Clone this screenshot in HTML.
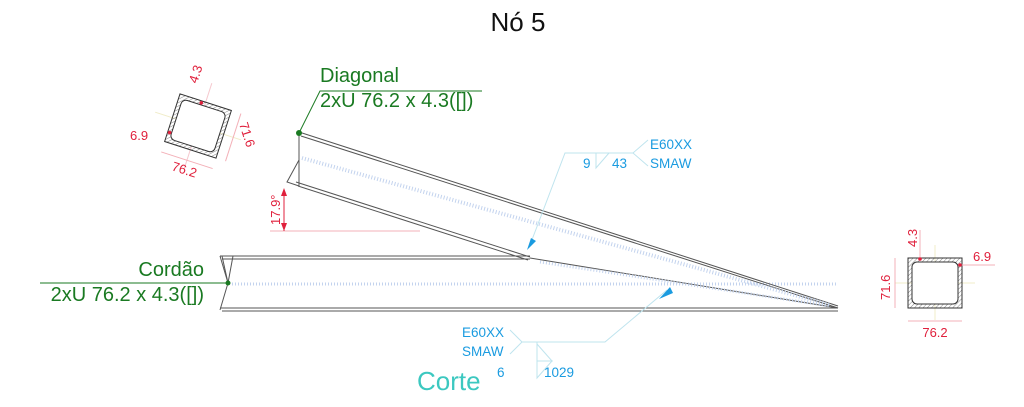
<!DOCTYPE html>
<html><head><meta charset="utf-8"><style>
html,body{margin:0;padding:0;background:#fff;}
svg{display:block;font-family:"Liberation Sans",sans-serif;}
</style></head><body>
<svg width="1024" height="407" viewBox="0 0 1024 407" xmlns="http://www.w3.org/2000/svg">
<defs>
<pattern id="hatch" width="3" height="3" patternUnits="userSpaceOnUse" patternTransform="rotate(45)"><line x1="0" y1="0" x2="0" y2="3" stroke="#888" stroke-width="1"/></pattern>
</defs>
<text x="518" y="31" font-size="26" text-anchor="middle" fill="#111">Nó 5</text>

<!-- chord -->
<g stroke="#555" fill="none" stroke-width="1">
<line x1="220" y1="256" x2="530" y2="256"/><line x1="222" y1="259" x2="530" y2="259"/>
<line x1="220" y1="308" x2="838" y2="308"/><line x1="222" y1="311" x2="838" y2="311"/>
<polyline points="220,256 228,283 220,310"/>
<polyline points="222,256 228,283 233,256"/>
</g>
<line x1="232" y1="284" x2="838" y2="284" stroke="#c3d3ee" stroke-width="3" stroke-dasharray="1 2"/>

<!-- diagonal -->
<g stroke="#555" fill="none" stroke-width="1">
<line x1="299" y1="132" x2="838" y2="306"/><line x1="301" y1="136" x2="838" y2="308"/>
<line x1="296" y1="182" x2="530" y2="257"/><line x1="298" y1="186" x2="528" y2="260"/>
<line x1="530" y1="258" x2="838" y2="308"/>
<line x1="299" y1="133" x2="299" y2="186"/>
<polyline points="299,160 287,182 299,186"/>
</g>
<line x1="302" y1="158" x2="830" y2="305" stroke="#c3d3ee" stroke-width="4" stroke-dasharray="1 2"/>
<line x1="540" y1="262" x2="830" y2="306" stroke="#c3d3ee" stroke-width="3" stroke-dasharray="1 2"/>

<!-- angle dim -->
<line x1="270" y1="231" x2="420" y2="231" stroke="#f3b0b8" stroke-width="1"/>
<line x1="284" y1="190" x2="284" y2="231" stroke="#e0203c" stroke-width="1"/>
<polygon points="284,188 281,196 287,196" fill="#e0203c"/>
<polygon points="284,231 281,223 287,223" fill="#e0203c"/>
<text x="0" y="0" font-size="13" fill="#e0203c" transform="translate(280,225) rotate(-90)">17.9°</text>

<!-- green labels -->
<text x="320" y="82" font-size="20" fill="#1a7a22">Diagonal</text>
<text x="320" y="107" font-size="20" fill="#1a7a22">2xU 76.2 x 4.3([])</text>
<polyline points="299,133 320,91 482,91" fill="none" stroke="#1a7a22" stroke-width="1"/>
<circle cx="299" cy="133" r="3" fill="#1a7a22"/>
<text x="204" y="276" font-size="20" fill="#1a7a22" text-anchor="end">Cordão</text>
<text x="204" y="301" font-size="20" fill="#1a7a22" text-anchor="end">2xU 76.2 x 4.3([])</text>
<line x1="40" y1="283" x2="228" y2="283" stroke="#1a7a22" stroke-width="1"/>
<circle cx="228" cy="283" r="2.5" fill="#1a7a22"/>

<!-- top weld symbol -->
<g stroke="#bfe4ee" fill="none" stroke-width="1">
<polyline points="530,245 565,153 633,153 648,140"/>
<line x1="633" y1="153" x2="648" y2="166"/>
<polyline points="596,153 596,168 609,153"/>
</g>
<polygon points="527,250 531,238 536,241" fill="#1a9be0"/>
<text x="650" y="149" font-size="13.5" fill="#1a9be0">E60XX</text>
<text x="650" y="168" font-size="13.5" fill="#1a9be0">SMAW</text>
<text x="583" y="168" font-size="13.5" fill="#1a9be0">9</text>
<text x="612" y="168" font-size="13.5" fill="#1a9be0">43</text>

<!-- bottom weld -->
<g stroke="#bfe4ee" fill="none" stroke-width="1">
<polyline points="667,290 605,342 522,342 510,330"/>
<line x1="522" y1="342" x2="510" y2="354"/>
<polyline points="537,342 537,378 552,361 537,361 552,361 537,344"/>
</g>
<polygon points="659,299 670,287 673,293" fill="#1a9be0"/>
<text x="462" y="337" font-size="13.5" fill="#1a9be0">E60XX</text>
<text x="462" y="356" font-size="13.5" fill="#1a9be0">SMAW</text>
<text x="497" y="377" font-size="13.5" fill="#1a9be0">6</text>
<text x="559" y="377" font-size="13.5" fill="#1a9be0" text-anchor="middle">1029</text>
<text x="417" y="390" font-size="26" fill="#3cc8c0">Corte</text>

<!-- left section -->
<g transform="translate(198,126) rotate(17.9)">
<line x1="0" y1="-45" x2="0" y2="45" stroke="#f6c9cf" stroke-width="1"/>
<line x1="-45" y1="0" x2="45" y2="0" stroke="#f0ecc8" stroke-width="1"/>
<rect x="-27" y="-25" width="54" height="50" fill="url(#hatch)" stroke="#333" stroke-width="1"/>
<rect x="-23" y="-21" width="46" height="42" rx="5" fill="#fff" stroke="#333" stroke-width="1"/>
<line x1="-27" y1="36" x2="27" y2="36" stroke="#f3b0b8"/>
<line x1="37" y1="-25" x2="37" y2="25" stroke="#f3b0b8"/>
<circle cx="-4" cy="-23" r="1.8" fill="#e0203c"/>
<circle cx="-25" cy="15" r="1.8" fill="#e0203c"/>
</g>
<text font-size="13" fill="#e0203c" transform="translate(197,84) rotate(-72)">4.3</text>
<text x="130" y="140" font-size="13" fill="#e0203c">6.9</text>
<text font-size="13" fill="#e0203c" transform="translate(239,124) rotate(72)">71.6</text>
<text font-size="13" fill="#e0203c" transform="translate(171,170) rotate(17.9)">76.2</text>

<!-- right section -->
<g>
<line x1="935" y1="245" x2="935" y2="320" stroke="#f0ecc8"/>
<line x1="895" y1="283" x2="975" y2="283" stroke="#f0ecc8"/>
<rect x="908" y="258" width="54" height="50" fill="url(#hatch)" stroke="#333" stroke-width="1"/>
<rect x="912" y="262" width="46" height="42" rx="5" fill="#fff" stroke="#333" stroke-width="1"/>
<line x1="895" y1="258" x2="895" y2="308" stroke="#f3b0b8"/>
<line x1="908" y1="321" x2="962" y2="321" stroke="#f3b0b8"/>
<line x1="920" y1="230" x2="920" y2="258" stroke="#f3b0b8"/>
<line x1="958" y1="265" x2="995" y2="265" stroke="#f3b0b8"/>
<circle cx="920" cy="259" r="1.8" fill="#e0203c"/>
<circle cx="960" cy="265" r="1.8" fill="#e0203c"/>
</g>
<text font-size="13" fill="#e0203c" transform="translate(917,247) rotate(-90)">4.3</text>
<text x="973" y="261" font-size="13" fill="#e0203c">6.9</text>
<text font-size="13" fill="#e0203c" transform="translate(890,300) rotate(-90)">71.6</text>
<text x="935" y="337" font-size="13" fill="#e0203c" text-anchor="middle">76.2</text>
</svg>
</body></html>
